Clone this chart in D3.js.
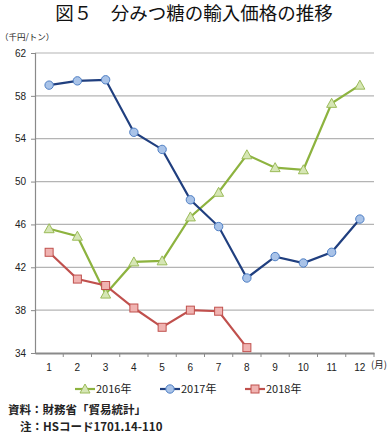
<!DOCTYPE html>
<html>
<head>
<meta charset="utf-8">
<script src="https://cdn.jsdelivr.net/npm/d3@7"></script>
<style>
  body { margin: 0; background: #fff; }
  text { font-family: "Noto Sans CJK JP", "DejaVu Sans", sans-serif; fill: #222; }
</style>
</head>
<body>
<div id="chart"></div>
<script>
// data
var months = ["1", "2", "3", "4", "5", "6", "7", "8", "9", "10", "11", "12"];
var yTicks = [34, 38, 42, 46, 50, 54, 58, 62];
var values2016 = [45.6, 44.9, 39.5, 42.5, 42.6, 46.7, 49.0, 52.5, 51.3, 51.1, 57.3, 59.0];
var values2017 = [59.0, 59.4, 59.5, 54.6, 53.0, 48.3, 45.8, 41.0, 43.0, 42.4, 43.4, 46.5];
var values2018 = [43.4, 40.9, 40.3, 38.2, 36.4, 38.0, 37.9, 34.5];
var seriesNames = ["2016年", "2017年", "2018年"];

var W = 388, H = 434;
var margin = { top: 53, right: 14, bottom: 81, left: 35 };
var width = W - margin.left - margin.right;
var height = H - margin.top - margin.bottom;

var svg = d3.select("#chart").append("svg")
    .attr("width", W)
    .attr("height", H);

// title
svg.append("text")
    .attr("x", W / 2)
    .attr("y", 20)
    .attr("text-anchor", "middle")
    .style("font-size", "18.5px")
    .style("font-weight", "normal")
    .style("fill", "#111")
    .text("図５　分みつ糖の輸入価格の推移");

svg.append("text")
    .attr("x", 0)
    .attr("y", 40)
    .style("font-size", "8.5px")
    .text("（千円/トン）");

var g = svg.append("g")
    .attr("transform", "translate(" + margin.left + "," + margin.top + ")");

var x = d3.scaleBand().domain(months).range([0, width]);
var y = d3.scaleLinear().domain([34, 62]).range([height, 0]);

// gridlines
g.selectAll(".grid").data(yTicks.slice(1)).enter()
    .append("line")
    .attr("class", "grid")
    .attr("x1", 0).attr("x2", width)
    .attr("y1", function(d) { return y(d); })
    .attr("y2", function(d) { return y(d); })
    .attr("stroke", "#b4b4b4")
    .attr("stroke-width", 1.2);

// y axis
var yAxis = d3.axisLeft(y).tickValues(yTicks).tickSize(4).tickPadding(5);
var yg = g.append("g").call(yAxis);
yg.select(".domain").attr("stroke", "#8a8a8a").attr("stroke-width", 1.2);
yg.selectAll(".tick line").attr("stroke", "#8a8a8a");
yg.selectAll("text").style("font-size", "10px").style("font-family", "Liberation Sans, Arial, sans-serif");

// x axis
var xAxis = d3.axisBottom(x).tickSize(0).tickPadding(11);
var xg = g.append("g").attr("transform", "translate(0," + height + ")").call(xAxis);
xg.select(".domain").attr("stroke", "#8a8a8a").attr("stroke-width", 2);
xg.selectAll("text").style("font-size", "10px").style("font-family", "Liberation Sans, Arial, sans-serif");
// category separators below axis
g.selectAll(".xsep").data(months).enter()
    .append("line")
    .attr("x1", function(d) { return x(d) + x.bandwidth(); })
    .attr("x2", function(d) { return x(d) + x.bandwidth(); })
    .attr("y1", height).attr("y2", height + 4)
    .attr("stroke", "#8a8a8a");

svg.append("text")
    .attr("x", margin.left + width - 3)
    .attr("y", margin.top + height + 15)
    .attr("text-anchor", "start")
    .style("font-size", "9.5px")
    .text("(月)");

var cx = function(d, i) { return x(months[i]) + x.bandwidth() / 2; };
var line = d3.line().x(cx).y(function(d) { return y(d); });

var series = [
    { name: seriesNames[0], values: values2016, stroke: "#8db33f", fill: "#d6e6b5", mstroke: "#9bbb59", shape: "triangle" },
    { name: seriesNames[1], values: values2017, stroke: "#203f7f", fill: "#a9c3e8", mstroke: "#4f7fc4", shape: "circle" },
    { name: seriesNames[2], values: values2018, stroke: "#c0504d", fill: "#f0b3b1", mstroke: "#c0504d", shape: "square" }
];

function drawMarker(sel, s) {
    if (s.shape === "circle") {
        sel.append("circle").attr("r", 4.2);
    } else if (s.shape === "square") {
        sel.append("rect").attr("x", -4).attr("y", -4).attr("width", 8).attr("height", 8);
    } else {
        sel.append("path").attr("d", "M0,-5L5,4L-5,4Z");
    }
    sel.selectAll("*")
        .attr("fill", s.fill)
        .attr("stroke", s.mstroke)
        .attr("stroke-width", 1);
}

series.forEach(function(s) {
    g.append("path")
        .datum(s.values)
        .attr("fill", "none")
        .attr("stroke", s.stroke)
        .attr("stroke-width", 2.2)
        .attr("d", line);
    g.selectAll(null).data(s.values).enter()
        .append("g")
        .attr("transform", function(d, i) { return "translate(" + cx(d, i) + "," + y(d) + ")"; })
        .each(function() { drawMarker(d3.select(this), s); });
});

// legend
var legendX = [75, 160, 245];
series.forEach(function(s, i) {
    var lg = svg.append("g").attr("transform", "translate(" + legendX[i] + ",389)");
    lg.append("line").attr("x1", 0).attr("x2", 20).attr("y1", 0).attr("y2", 0)
        .attr("stroke", s.stroke).attr("stroke-width", 2.2);
    var m = lg.append("g").attr("transform", "translate(10,0)");
    drawMarker(m, s);
    lg.append("text").attr("x", 21).attr("y", 4)
        .style("font-size", "11px")
        .text(s.name);
});

// footer
svg.append("text")
    .attr("x", 8).attr("y", 414)
    .style("font-size", "11.5px")
    .style("font-weight", "bold")
    .text("資料：財務省「貿易統計」");
svg.append("text")
    .attr("x", 20).attr("y", 431)
    .style("font-size", "11.5px")
    .style("font-weight", "bold")
    .text("注：HSコード1701.14-110");
</script>
</body>
</html>
